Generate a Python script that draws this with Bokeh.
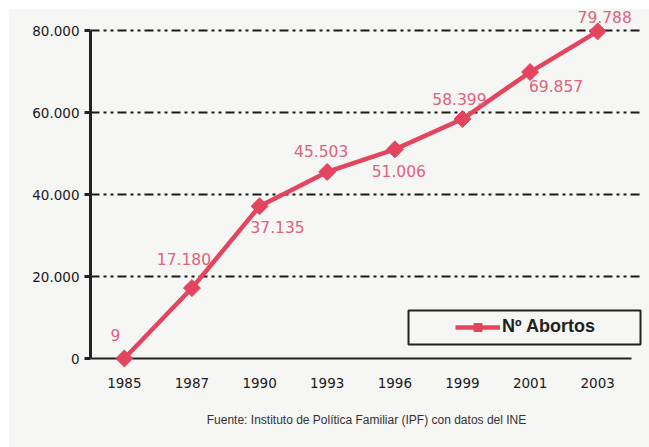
import math
from bokeh.plotting import figure
from bokeh.models import (ColumnDataSource, Range1d, Legend, LegendItem,
                          BoxAnnotation, FixedTicker, Title)
from bokeh.core.properties import value
from bokeh.embed import file_html
from bokeh.resources import INLINE

# ---- data ----
years = ["1985", "1987", "1990", "1993", "1996", "1999", "2001", "2003"]
abortos = [9, 17180, 37135, 45503, 51006, 58399, 69857, 79788]
value_labels = ["9", "17.180", "37.135", "45.503", "51.006", "58.399", "69.857", "79.788"]
y_ticks = [0, 20000, 40000, 60000, 80000]
y_tick_labels = ["0", "20.000", "40.000", "60.000", "80.000"]
series_name = "Nº Abortos"
footer = "Fuente: Instituto de Política Familiar (IPF) con datos del INE"

# label placement (screen px, y positive = down)
label_dx = [-9, -8, 18, -6, 4, -3, 26, 7]
label_dy = [-23, -29, 21, -21, 22, -20, 14, -14]

LINE_COLOR = "#e3455f"
LABEL_COLOR = "#e0627b"
BG = "#f6f6f4"

idx = list(range(len(years)))
src = ColumnDataSource(dict(x=idx, y=abortos, lab=value_labels, dx=label_dx, dy=label_dy))

# layout (page px; the figure is pushed 8px right/down by its margin)
OFF = 8
W, H = 641, 439
FL, FR, FT, FB = 90, 642, 8, 370          # frame edges on the page
Y0_PX, Y80_PX = 358, 30                    # page y of 0 and 80.000
AXIS_RIGHT_PX = 631                        # end of the category band
cat_w = (AXIS_RIGHT_PX - FL) / len(years)
px_per_unit = (Y0_PX - Y80_PX) / 80000.0
y_end = (Y0_PX - FT) / px_per_unit
y_start = -(FB - Y0_PX) / px_per_unit
x_end = -0.5 + (FR - FL) / cat_w

p = figure(width=W, height=H, output_backend="svg", toolbar_location=None,
           x_range=Range1d(-0.5, x_end), y_range=Range1d(y_start, y_end),
           min_border_left=FL - OFF, min_border_right=OFF + W - FR,
           min_border_top=FT - OFF, min_border_bottom=OFF + H - FB)
p.margin = (OFF, 0, 0, OFF)
p.outline_line_color = None
p.background_fill_color = BG
p.border_fill_color = BG

# grid
p.xgrid.visible = False
p.ygrid.ticker = FixedTicker(ticks=y_ticks[1:])
p.ygrid.grid_line_color = "#1a1a1a"
p.ygrid.grid_line_width = 2
p.ygrid.grid_line_dash = "9 4 3 4 3 4"

# y axis
ya = p.yaxis[0]
ya.ticker = FixedTicker(ticks=y_ticks)
ya.major_label_overrides = {t: l for t, l in zip(y_ticks, y_tick_labels)}
ya.bounds = (y_ticks[0], y_ticks[-1])
ya.axis_line_width = 3
ya.axis_line_color = "#222222"
ya.major_tick_line_width = 3
ya.major_tick_line_color = "#222222"
ya.major_tick_out = 6
ya.major_tick_in = 0
ya.minor_tick_line_color = None
ya.major_label_standoff = 5
ya.major_label_text_font = "DejaVu Sans"
ya.major_label_text_font_size = "13.5px"
ya.major_label_text_color = "#1a1a1a"

# x axis: year labels at the frame bottom, no line
xa = p.xaxis[0]
xa.ticker = FixedTicker(ticks=idx)
xa.major_label_overrides = {i: y for i, y in zip(idx, years)}
xa.axis_line_color = None
xa.major_tick_line_color = None
xa.minor_tick_line_color = None
xa.major_tick_out = 0
xa.major_tick_in = 0
xa.major_label_standoff = 7
xa.major_label_text_font = "DejaVu Sans"
xa.major_label_text_font_size = "13.5px"
xa.major_label_text_color = "#1a1a1a"

# baseline at y = 0 across the category band
p.segment(x0=[-0.5], y0=[y_ticks[0]], x1=[len(years) - 0.5], y1=[y_ticks[0]],
          line_color="#222222", line_width=2)

# series
line_r = p.line("x", "y", source=src, line_color=LINE_COLOR, line_width=4.5)
mark_r = p.scatter("x", "y", source=src, marker="square", size=12, angle=math.pi / 4,
                   fill_color=LINE_COLOR, line_color=LINE_COLOR)
p.text("x", "y", text="lab", source=src, x_offset="dx", y_offset="dy",
       text_align="center", text_baseline="middle",
       text_font=value("DejaVu Sans"), text_font_size="15.5px", text_color=LABEL_COLOR)

# legend box (data coords derived from the page layout)
def px_to_x(px):
    return (px - FL) / cat_w - 0.5

def py_to_y(py):
    return (Y0_PX - py) / px_per_unit

box = BoxAnnotation(left=px_to_x(408), right=px_to_x(640), top=py_to_y(310), bottom=py_to_y(344),
                    fill_alpha=0, line_color="#222222", line_alpha=1, line_width=2)
p.add_layout(box)

legend = Legend(items=[LegendItem(label=series_name, renderers=[line_r, mark_r])],
                location=(455 - FL, FB - 337), border_line_alpha=0, background_fill_alpha=0,
                padding=0, margin=0, glyph_width=45, glyph_height=20, label_standoff=2,
                label_text_font="Liberation Sans", label_text_font_style="bold",
                label_text_font_size="18px", label_text_color="#222222")
p.add_layout(legend)

p.add_layout(Title(text=footer, align="center", text_font="Liberation Sans", standoff=40,
                   text_font_size="12px", text_font_style="normal", text_color="#333333"), "below")

open("out.html", "w").write(file_html(p, INLINE))
